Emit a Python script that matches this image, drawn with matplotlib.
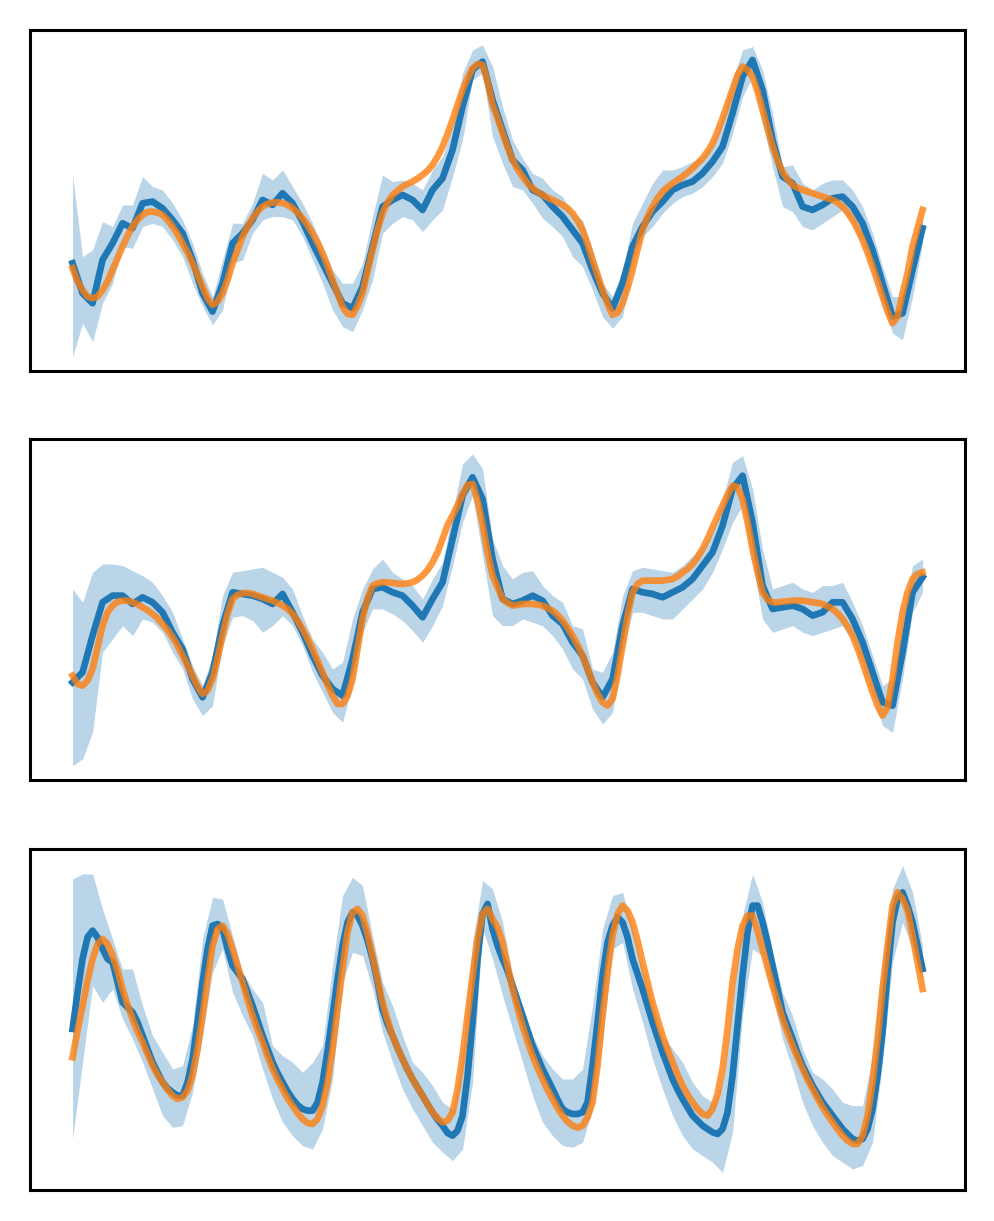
import numpy as np
import matplotlib
matplotlib.use('Agg')
import matplotlib.pyplot as plt

# time grids: whole steps for the sample band, half steps for the smooth curves
t = np.arange(86)
th = np.arange(171) / 2

# panel 1
p1_true = [-2.03, -2.43, -2.68, -2.88, -2.93, -2.88, -2.68, -2.43, -2.08, -1.73,
           -1.38, -1.06, -0.78, -0.58, -0.43, -0.34, -0.33, -0.36, -0.43, -0.58,
           -0.78, -1.01, -1.28, -1.56, -1.88, -2.23, -2.58, -2.93, -3.13, -3.03,
           -2.78, -2.38, -1.88, -1.48, -1.08, -0.78, -0.53, -0.33, -0.18, -0.10,
           -0.06, -0.05, -0.08, -0.13, -0.23, -0.36, -0.53, -0.73, -0.98, -1.26,
           -1.58, -1.96, -2.38, -2.78, -3.18, -3.40, -3.43, -3.16, -2.78, -2.13,
           -1.48, -0.88, -0.38, -0.06, 0.17, 0.30, 0.42, 0.50, 0.57, 0.66,
           0.77, 0.90, 1.07, 1.32, 1.62, 2.00, 2.42, 2.87, 3.32, 3.67,
           3.97, 4.10, 4.07, 3.57, 2.87, 2.47, 2.02, 1.60, 1.22, 0.94,
           0.72, 0.52, 0.37, 0.26, 0.17, 0.09, 0.02, -0.05, -0.13, -0.23,
           -0.38, -0.60, -0.88, -1.30, -1.78, -2.23, -2.68, -3.10, -3.43, -3.36,
           -3.08, -2.63, -2.08, -1.46, -0.88, -0.48, -0.18, 0.07, 0.27, 0.40,
           0.52, 0.62, 0.72, 0.84, 0.97, 1.12, 1.27, 1.47, 1.72, 2.07,
           2.47, 2.90, 3.32, 3.77, 4.02, 3.92, 3.72, 3.27, 2.72, 2.17,
           1.62, 1.20, 0.87, 0.64, 0.47, 0.39, 0.32, 0.27, 0.22, 0.17,
           0.12, 0.07, 0.02, -0.06, -0.18, -0.36, -0.58, -0.86, -1.18, -1.56,
           -1.98, -2.43, -2.88, -3.33, -3.68, -3.48, -2.78, -2.18, -1.38, -0.83,
           -0.28]
p1_mean = [-1.88, -2.78, -3.08, -1.78, -1.28, -0.68, -0.83, -0.08, -0.03, -0.23,
           -0.58, -0.98, -1.78, -2.78, -3.33, -2.48, -1.28, -0.98, -0.58, 0.02,
           -0.13, 0.22, -0.08, -0.63, -1.28, -1.88, -2.48, -3.08, -3.23, -2.58,
           -1.38, -0.18, 0.02, 0.17, 0.02, -0.28, 0.32, 0.67, 1.52, 2.82,
           3.92, 4.17, 3.02, 2.12, 1.22, 0.92, 0.32, 0.17, -0.18, -0.48,
           -0.88, -1.28, -2.08, -2.78, -3.23, -2.48, -1.38, -0.78, -0.33, -0.03,
           0.32, 0.47, 0.57, 0.82, 1.17, 1.62, 2.62, 3.72, 4.22, 3.32,
           1.82, 0.72, 0.52, -0.18, -0.28, -0.13, 0.07, 0.12, -0.18, -0.68,
           -1.48, -2.48, -3.48, -3.38, -2.08, -0.83]
p1_hi = [0.77, -1.68, -1.48, -0.63, -0.78, -0.13, -0.13, 0.72, 0.42, 0.32,
         -0.08, -0.58, -1.28, -2.18, -2.88, -1.78, -0.68, -0.68, -0.08, 0.82,
         0.62, 0.92, 0.42, -0.08, -0.68, -1.38, -2.08, -2.48, -2.48, -1.88,
         -0.48, 0.77, 0.57, 0.62, 0.52, 0.32, 0.92, 1.32, 2.22, 3.82,
         4.52, 4.67, 4.02, 2.82, 1.82, 1.27, 0.82, 0.67, 0.32, 0.12,
         -0.38, -0.58, -1.48, -2.48, -2.88, -2.08, -0.68, -0.08, 0.52, 0.92,
         0.92, 1.02, 1.17, 1.32, 1.72, 2.52, 3.62, 4.52, 4.62, 3.92,
         2.62, 1.02, 1.07, 0.52, 0.32, 0.52, 0.62, 0.62, 0.32, -0.18,
         -0.98, -1.98, -2.88, -2.88, -1.48, -0.48]
p1_lo = [-4.68, -3.68, -4.23, -3.08, -2.48, -1.38, -1.43, -0.78, -0.68, -0.78,
         -1.18, -1.68, -2.48, -3.18, -3.73, -3.28, -1.88, -1.78, -0.98, -0.58,
         -0.48, -0.48, -0.58, -1.08, -1.78, -2.48, -3.28, -3.78, -3.93, -3.28,
         -2.38, -0.98, -0.68, -0.48, -0.58, -0.93, -0.58, -0.28, 0.72, 1.82,
         3.62, 3.82, 1.92, 1.12, 0.42, 0.32, -0.08, -0.53, -0.78, -1.08,
         -1.68, -1.98, -2.68, -3.48, -3.83, -3.48, -1.88, -1.08, -0.78, -0.38,
         -0.08, 0.12, 0.22, 0.42, 0.72, 1.12, 2.02, 3.12, 3.72, 2.32,
         1.02, -0.18, -0.33, -0.78, -0.88, -0.68, -0.48, -0.28, -0.68, -1.28,
         -2.08, -3.08, -3.98, -4.18, -2.88, -1.28]

# panel 2
p2_true = [-1.98, -2.23, -2.28, -2.13, -1.78, -1.13, -0.48, -0.08, 0.12, 0.24,
           0.27, 0.27, 0.22, 0.16, 0.07, -0.02, -0.13, -0.26, -0.43, -0.61,
           -0.83, -1.08, -1.38, -1.68, -1.98, -2.30, -2.53, -2.43, -2.08, -1.48,
           -0.78, -0.13, 0.32, 0.44, 0.50, 0.50, 0.47, 0.42, 0.37, 0.32,
           0.27, 0.20, 0.12, 0.02, -0.13, -0.33, -0.58, -0.86, -1.18, -1.53,
           -1.88, -2.26, -2.58, -2.83, -2.83, -2.58, -2.08, -1.18, -0.28, 0.34,
           0.72, 0.79, 0.82, 0.82, 0.80, 0.78, 0.77, 0.79, 0.82, 0.90,
           1.02, 1.19, 1.42, 1.72, 2.12, 2.54, 2.82, 3.12, 3.47, 3.74,
           3.77, 3.27, 2.57, 1.72, 1.02, 0.67, 0.32, 0.20, 0.12, 0.14,
           0.17, 0.17, 0.17, 0.15, 0.12, 0.05, -0.03, -0.16, -0.33, -0.54,
           -0.78, -1.06, -1.38, -1.76, -2.18, -2.53, -2.78, -2.88, -2.68, -1.98,
           -1.08, -0.18, 0.52, 0.77, 0.87, 0.87, 0.87, 0.87, 0.87, 0.89,
           0.92, 1.00, 1.12, 1.22, 1.37, 1.57, 1.82, 2.12, 2.47, 2.80,
           3.12, 3.44, 3.72, 3.67, 3.32, 2.62, 1.82, 1.12, 0.52, 0.30,
           0.22, 0.22, 0.24, 0.25, 0.27, 0.27, 0.27, 0.25, 0.22, 0.20,
           0.17, 0.10, 0.02, -0.11, -0.28, -0.51, -0.78, -1.16, -1.58, -2.03,
           -2.48, -2.88, -3.18, -2.93, -2.08, -0.98, -0.08, 0.52, 0.92, 1.07,
           1.12]
p2_mean = [-2.18, -1.88, -0.78, 0.22, 0.42, 0.42, 0.17, 0.37, 0.22, -0.08,
           -0.68, -1.18, -2.08, -2.63, -1.88, -0.48, 0.52, 0.47, 0.42, 0.32,
           0.17, 0.47, -0.08, -0.68, -1.38, -1.98, -2.38, -2.58, -1.48, -0.08,
           0.62, 0.67, 0.52, 0.42, 0.12, -0.23, 0.32, 0.82, 2.12, 3.42,
           3.97, 3.32, 1.52, 0.32, 0.17, 0.27, 0.42, 0.27, -0.18, -0.43,
           -0.98, -1.38, -2.18, -2.63, -2.08, -0.48, 0.62, 0.52, 0.47, 0.37,
           0.52, 0.67, 0.92, 1.32, 1.72, 2.52, 3.62, 4.02, 2.62, 0.72,
           0.02, 0.07, 0.12, 0.02, -0.18, -0.08, 0.22, 0.22, -0.28, -0.98,
           -1.88, -2.78, -2.88, -1.28, 0.52, 0.97]
p2_hi = [0.62, 0.22, 1.12, 1.37, 1.37, 1.32, 1.17, 1.02, 0.82, 0.42,
         -0.08, -0.88, -1.68, -2.28, -1.38, 0.42, 1.12, 1.17, 1.22, 1.27,
         1.12, 0.97, 0.62, -0.18, -0.88, -1.28, -1.78, -1.58, -0.28, 0.62,
         1.22, 1.52, 1.12, 0.92, 0.72, 0.32, 0.92, 1.42, 2.92, 4.37,
         4.67, 4.22, 2.12, 1.32, 0.92, 1.12, 1.17, 0.72, 0.42, 0.22,
         -0.48, -0.58, -1.78, -1.88, -1.28, 0.42, 1.17, 1.27, 1.22, 1.17,
         1.12, 1.32, 1.62, 1.92, 2.32, 3.32, 4.42, 4.62, 3.62, 1.82,
         0.62, 0.72, 0.82, 0.62, 0.52, 0.72, 0.72, 0.82, 0.22, -0.48,
         -1.38, -2.28, -2.08, -0.28, 1.32, 1.52]
p2_lo = [-4.68, -4.48, -3.68, -1.28, -0.88, -0.48, -0.78, -0.28, -0.38, -0.68,
         -1.28, -1.78, -2.68, -3.18, -2.88, -1.08, -0.23, -0.18, -0.33, -0.68,
         -0.48, -0.18, -0.48, -1.08, -1.88, -2.48, -3.08, -3.38, -2.28, -0.68,
         0.02, 0.02, -0.13, -0.33, -0.63, -0.98, -0.48, 0.12, 1.32, 2.62,
         3.42, 1.62, -0.18, -0.48, -0.48, -0.28, -0.38, -0.48, -0.78, -1.18,
         -1.78, -2.08, -2.98, -3.43, -3.08, -1.28, -0.08, -0.08, -0.18, -0.28,
         -0.28, 0.02, 0.32, 0.62, 1.12, 1.82, 2.62, 3.12, 1.42, -0.28,
         -0.68, -0.58, -0.48, -0.68, -0.78, -0.68, -0.58, -0.48, -0.88, -1.68,
         -2.58, -3.48, -3.68, -2.08, -0.08, 0.52]

# panel 3
p3_true = [-1.13, -0.33, 0.42, 1.17, 1.82, 2.27, 2.42, 2.27, 1.92, 1.47,
           0.92, 0.44, 0.02, -0.36, -0.68, -1.03, -1.38, -1.66, -1.88, -2.10,
           -2.28, -2.38, -2.33, -2.13, -1.68, -0.88, 0.12, 1.22, 2.22, 2.72,
           2.82, 2.57, 2.12, 1.62, 1.12, 0.60, 0.12, -0.30, -0.68, -1.10,
           -1.48, -1.80, -2.08, -2.36, -2.58, -2.80, -2.98, -3.10, -3.13, -2.98,
           -2.58, -1.88, -0.88, 0.32, 1.52, 2.62, 3.22, 3.32, 3.12, 2.57,
           1.92, 1.22, 0.52, 0.00, -0.48, -0.85, -1.18, -1.50, -1.78, -2.04,
           -2.28, -2.54, -2.78, -2.96, -3.08, -3.03, -2.78, -2.08, -1.08, 0.12,
           1.32, 2.42, 3.17, 3.32, 3.02, 2.77, 2.32, 1.62, 0.92, 0.34,
           -0.18, -0.66, -1.08, -1.45, -1.78, -2.10, -2.38, -2.65, -2.88, -3.06,
           -3.18, -3.24, -3.18, -2.93, -2.48, -1.38, 0.12, 1.42, 2.52, 3.17,
           3.42, 3.27, 2.92, 2.37, 1.72, 1.12, 0.52, 0.00, -0.48, -0.90,
           -1.28, -1.65, -1.98, -2.25, -2.48, -2.68, -2.83, -2.88, -2.68, -2.23,
           -1.48, -0.28, 1.12, 2.12, 2.82, 3.12, 3.12, 2.67, 2.12, 1.57,
           1.02, 0.52, 0.02, -0.40, -0.78, -1.13, -1.48, -1.80, -2.08, -2.36,
           -2.63, -2.86, -3.08, -3.28, -3.48, -3.63, -3.73, -3.73, -3.48, -2.88,
           -1.88, -0.58, 0.92, 2.22, 3.42, 3.82, 3.62, 3.27, 2.52, 1.72,
           0.92]
p3_mean = [-0.28, 0.82, 1.82, 2.47, 2.67, 2.47, 2.12, 1.82, 1.72, 1.12,
           0.52, 0.37, 0.22, -0.08, -0.48, -0.88, -1.28, -1.58, -1.88, -2.06,
           -2.18, -2.28, -2.28, -1.88, -1.18, -0.08, 1.12, 2.12, 2.82, 2.87,
           2.72, 2.12, 1.62, 1.42, 1.22, 0.82, 0.42, -0.03, -0.48, -0.88,
           -1.28, -1.60, -1.88, -2.15, -2.38, -2.56, -2.68, -2.73, -2.73, -2.48,
           -1.88, -0.93, 0.12, 1.22, 2.22, 2.92, 3.22, 3.12, 2.82, 2.37,
           1.82, 1.12, 0.32, -0.13, -0.48, -0.85, -1.18, -1.50, -1.78, -2.04,
           -2.28, -2.54, -2.78, -3.00, -3.18, -3.40, -3.48, -3.33, -2.88, -1.68,
           -0.08, 1.82, 3.17, 3.47, 2.72, 2.22, 1.82, 1.47, 1.02, 0.57,
           0.12, -0.33, -0.78, -1.13, -1.48, -1.78, -2.08, -2.40, -2.68, -2.78,
           -2.83, -2.83, -2.78, -2.48, -1.38, -0.08, 1.32, 2.32, 2.82, 3.07,
           2.92, 2.47, 1.82, 1.37, 0.92, 0.42, -0.08, -0.53, -0.98, -1.38,
           -1.78, -2.10, -2.38, -2.63, -2.88, -3.03, -3.18, -3.28, -3.38, -3.43,
           -3.28, -2.78, -1.68, -0.18, 1.32, 2.62, 3.42, 3.42, 2.92, 2.32,
           1.62, 0.92, 0.22, -0.18, -0.58, -1.00, -1.38, -1.68, -1.98, -2.23,
           -2.48, -2.68, -2.88, -3.08, -3.28, -3.43, -3.58, -3.63, -3.58, -3.28,
           -2.68, -1.68, -0.38, 1.42, 2.92, 3.62, 3.82, 3.42, 2.92, 2.22,
           1.52]
p3_hi = [4.22, 4.37, 4.37, 3.32, 2.42, 1.52, 1.52, 0.42, -0.48, -0.98,
         -1.48, -1.38, -0.18, 2.42, 3.67, 3.62, 2.52, 1.42, 0.92, 0.52,
         -0.78, -1.08, -1.28, -1.58, -1.28, -0.78, 1.62, 3.72, 4.27, 4.02,
         2.52, 1.12, 0.42, -0.48, -1.28, -1.58, -1.98, -2.48, -2.68, -1.08,
         2.32, 4.17, 3.92, 2.92, 1.32, 0.42, -0.48, -1.08, -1.48, -1.78,
         -1.78, -1.48, 0.42, 2.72, 3.72, 3.82, 2.72, 1.42, 0.52, -0.48,
         -0.88, -1.28, -1.88, -2.28, -2.48, -1.88, 0.52, 3.12, 4.37, 3.52,
         2.02, 0.82, 0.12, -0.88, -1.58, -1.78, -2.08, -2.48, -2.58, -2.58,
         -1.08, 1.72, 3.92, 4.62, 3.82, 2.22]
p3_lo = [-3.58, -1.28, 1.02, 0.52, 0.92, 0.02, -0.58, -1.28, -2.08, -2.88,
         -3.23, -3.18, -2.18, -0.48, 1.42, 2.12, 0.82, 0.12, -0.48, -1.48,
         -2.38, -3.08, -3.48, -3.78, -3.88, -3.28, -1.78, 1.12, 2.02, 1.92,
         0.92, -0.38, -1.28, -2.08, -2.68, -3.18, -3.68, -3.98, -4.23, -3.88,
         -1.88, 2.72, 1.82, 0.72, -0.28, -1.28, -2.28, -3.08, -3.48, -3.78,
         -3.83, -3.68, -2.68, -0.58, 2.12, 2.32, 0.92, -0.08, -1.18, -2.08,
         -2.88, -3.48, -3.88, -4.08, -4.28, -4.58, -3.38, 0.12, 2.12, 1.92,
         0.72, -0.58, -1.48, -2.48, -3.18, -3.68, -4.08, -4.28, -4.48, -4.38,
         -3.68, -1.28, 1.72, 2.92, 2.12, 1.12]

panels = [(th, p1_true, t, p1_mean, p1_lo, p1_hi),
          (th, p2_true, t, p2_mean, p2_lo, p2_hi),
          (th, p3_true, th, p3_mean, p3_lo, p3_hi)]

fig = plt.figure(figsize=(4.975, 6.105), dpi=200)
bottoms = [0.6962, 0.3612, 0.0254]

for (x_true, truth, x_mean, mean, lo, hi), b in zip(panels, bottoms):
    ax = fig.add_axes([0.0302, b, 0.9397, 0.2793])
    # spread of the samples
    ax.fill_between(t, lo, hi, color='C0', alpha=0.3, lw=0)
    ax.plot(x_mean, mean, color='C0', lw=2.4)
    ax.plot(x_true, truth, color='C1', lw=2.4, alpha=0.8)
    ax.set_xlim(-4.25, 89.25)
    ax.set_ylim(-5.11, 5.12)
    ax.set_xticks([])
    ax.set_yticks([])
    for s in ax.spines.values():
        s.set_linewidth(1.1)

fig.savefig('out.png', dpi=200)
